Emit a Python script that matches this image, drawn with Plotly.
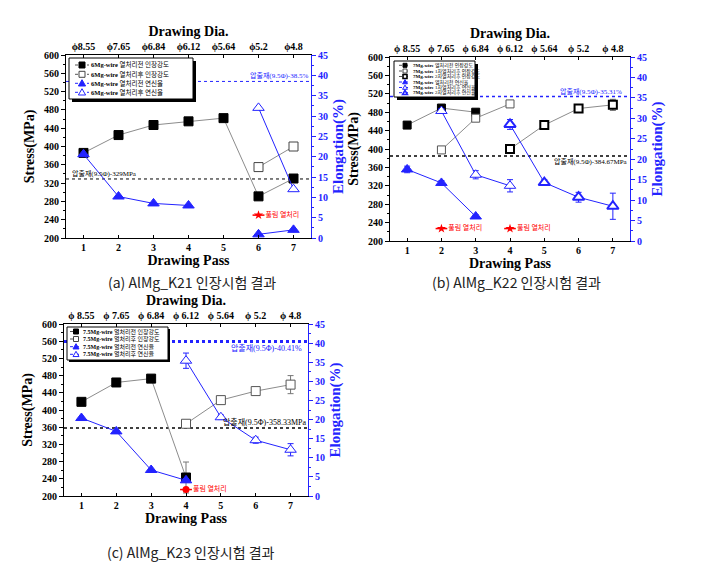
import plotly.graph_objects as go

W, H = 703, 565

# ---------------- data ----------------
passes = [1, 2, 3, 4, 5, 6, 7]
dia_a = ["ϕ8.55", "ϕ7.65", "ϕ6.84", "ϕ6.12", "ϕ5.64", "ϕ5.2", "ϕ4.8"]
dia_bc = ["ϕ 8.55", "ϕ 7.65", "ϕ 6.84", "ϕ 6.12", "ϕ 5.64", "ϕ 5.2", "ϕ 4.8"]

# (a) AlMg_K21
a_ts_pre = [386, 425, 447, 455, 462, 291, 330]
a_ts_post = [None, None, None, None, None, 355, 400]
a_ts_post_err = [0, 0, 0, 0, 0, 6, 6]
a_el_pre = [20.6, 10.2, 8.5, 8.0, None, 0.9, 2.0]
a_el_post = [None, None, None, None, None, 32.0, 12.0]
a_ref_ts = 329
a_ref_el = 38.5
a_anneal_pass = [6]
a_anneal_ts = [250]
a_legend = ["<b>6Mg-wire</b> 열처리전 인장강도", "<b>6Mg-wire</b> 열처리후 인장강도",
            "<b>6Mg-wire</b> 열처리전 연신율", "<b>6Mg-wire</b> 열처리후 연신율"]

# (b) AlMg_K22
b_ts_pre = [452, 489, 480, None, None, None, None]
b_ts_post1 = [None, 398, 467, 498, None, None, None]
b_ts_post1_err = [0, 4, 5, 4, 0, 0, 0]
b_ts_post2 = [None, None, None, 400, 452, 488, 496]
b_ts_post2_err = [0, 0, 0, 4, 4, 4, 12]
b_el_pre = [17.5, 14.2, 6.0, None, None, None, None]
b_el_pre_err = [0.8, 0.6, 0.4, 0, 0, 0, 0]
b_el_post1 = [None, 31.8, 16.2, 13.5, None, None, None]
b_el_post1_err = [0, 0.6, 1.0, 1.5, 0, 0, 0]
b_el_post2 = [None, None, None, 28.5, 14.3, 10.7, 8.5]
b_el_post2_err = [0, 0, 0, 1.2, 0.7, 1.2, 3.2]
b_ref_ts = 384.67
b_ref_el = 35.31
b_anneal_pass = [2, 4]
b_anneal_ts = [227, 227]
b_legend = ["<b>7Mg-wire</b> 열처리전 인장강도", "<b>7Mg-wire</b> 1차열처리후 인장강도",
            "<b>7Mg-wire</b> 2차열처리후 인장강도", "<b>7Mg-wire</b> 열처리전 연신율",
            "<b>7Mg-wire</b> 1차열처리후 연신율", "<b>7Mg-wire</b> 2차열처리후 연신율"]

# (c) AlMg_K23
c_ts_pre = [419, 464, 473, 243, None, None, None]
c_ts_pre_err = [0, 0, 0, 36, 0, 0, 0]
c_ts_post = [None, None, None, 368, 423, 444, 459]
c_ts_post_err = [0, 0, 0, 5, 5, 5, 21]
c_el_pre = [20.4, 16.9, 6.8, 4.1, None, None, None]
c_el_post = [None, None, None, 35.4, 20.6, 14.6, 12.1]
c_el_post_err = [0, 0, 0, 2.0, 0.6, 0.8, 1.6]
c_ref_ts = 358.33
c_ref_el = 40.41
c_anneal_pass = [4]
c_anneal_ts = [215]
c_legend = ["<b>7.5Mg-wire</b> 열처리전 인장강도", "<b>7.5Mg-wire</b> 열처리후 인장강도",
            "<b>7.5Mg-wire</b> 열처리전 연신율", "<b>7.5Mg-wire</b> 열처리후 연신율"]

captions = ["(a) AlMg_K21 인장시험 결과", "(b) AlMg_K22 인장시험 결과", "(c) AlMg_K23 인장시험 결과"]
anneal_text = "풀림 열처리"

# ---------------- styling ----------------
BLUE = "#2323ff"
GRAY = "#8c8c8c"
SERIF = "Liberation Serif, DejaVu Serif, serif"
KR = "Noto Sans CJK KR"
MIX = "Liberation Serif, Noto Sans CJK KR"


def nm(i):
    return "" if i == 1 else str(i)


fig = go.Figure()
shapes = []
annotations = []

panels = [
    dict(xd=(66, 311), yd=(55, 238), dia=dia_a, cap=(192, 282)),
    dict(xd=(390, 630), yd=(57, 241), dia=dia_bc, cap=(516, 282)),
    dict(xd=(64, 308), yd=(324, 496), dia=dia_bc, cap=(191, 552)),
]

layout_axes = {}
for p, P in enumerate(panels):
    ib, it = 2 * p + 1, 2 * p + 2
    tf = dict(family=SERIF, size=10, weight="bold", color="black")
    tfb = dict(family=SERIF, size=10, weight="bold", color=BLUE)
    layout_axes["xaxis" + nm(ib)] = dict(
        domain=[P["xd"][0] / W, P["xd"][1] / W], anchor="y" + nm(ib), range=[0.5, 7.5],
        tickvals=passes, ticks="inside", ticklen=3, tickcolor="black", automargin=False,
        showline=True, linecolor="black", linewidth=1, showgrid=False, zeroline=False,
        tickfont=tf,
        title=dict(text="Drawing Pass", font=dict(family=SERIF, size=14, weight="bold", color="black"), standoff=0))
    layout_axes["xaxis" + nm(it)] = dict(
        overlaying="x" + nm(ib), anchor="y" + nm(ib), side="top", range=[0.5, 7.5],
        tickvals=passes, ticktext=P["dia"], ticks="inside", ticklen=3, tickcolor="black", automargin=False,
        showline=True, linecolor="black", linewidth=1, showgrid=False, zeroline=False,
        tickfont=tf,
        title=dict(text="Drawing Dia.", font=dict(family=SERIF, size=14, weight="bold", color="black"), standoff=1))
    layout_axes["yaxis" + nm(ib)] = dict(
        domain=[1 - P["yd"][1] / H, 1 - P["yd"][0] / H], anchor="x" + nm(ib), range=[200, 600],
        dtick=40, ticks="outside", ticklen=4, tickcolor="black", automargin=False,
        minor=dict(ticks="outside", ticklen=2, dtick=20, tickcolor="black"),
        showline=True, linecolor="black", linewidth=1, showgrid=False, zeroline=False,
        tickfont=tf,
        title=dict(text="Stress(MPa)", font=dict(family=SERIF, size=14, weight="bold", color="black"), standoff=6))
    layout_axes["yaxis" + nm(it)] = dict(
        overlaying="y" + nm(ib), anchor="x" + nm(ib), side="right", range=[0, 45],
        dtick=5, ticks="outside", ticklen=4, tickcolor=BLUE, automargin=False,
        minor=dict(ticks="outside", ticklen=2, dtick=2.5, tickcolor=BLUE),
        showline=True, linecolor=BLUE, linewidth=1, showgrid=False, zeroline=False,
        tickfont=tfb,
        title=dict(text="Elongation(%)", font=dict(family=SERIF, size=15, weight="bold", color=BLUE), standoff=5))
    # keep the top axis alive
    fig.add_trace(go.Scatter(x=passes, y=[None] * 7, xaxis="x" + nm(it), yaxis="y" + nm(ib),
                             showlegend=False, hoverinfo="skip"))
    annotations.append(dict(text=captions[p], xref="paper", yref="paper", x=P["cap"][0] / W,
                            y=1 - P["cap"][1] / H, showarrow=False, xanchor="center", yanchor="middle",
                            font=dict(family=KR, size=14, color="#222")))


def series(y, p, right, sym, edge, fill, lc, size, mlw=1, err=None, ecolor=None):
    ib, it = 2 * p + 1, 2 * p + 2
    fig.add_trace(go.Scatter(
        x=passes, y=y, xaxis="x" + nm(ib), yaxis="y" + nm(it if right else ib),
        mode="lines+markers", line=dict(color=lc, width=1),
        marker=dict(symbol=sym, size=size, color=fill, line=dict(color=edge, width=mlw)),
        error_y=dict(type="data", array=err if err else [0] * 7, color=ecolor or lc,
                     thickness=1, width=3, visible=err is not None),
        showlegend=False, hoverinfo="skip"))


def anneal(xs, ys, p, sym):
    ib = 2 * p + 1
    fig.add_trace(go.Scatter(
        x=xs, y=ys, xaxis="x" + nm(ib), yaxis="y" + nm(ib), mode="markers+text",
        marker=dict(symbol=sym, size=7, color="red"),
        error_x=dict(type="constant", value=0.17, width=0, color="red", thickness=1.5),
        text=[" " + anneal_text] * len(xs), textposition="middle right",
        textfont=dict(family=KR, size=7, color="red"),
        showlegend=False, hoverinfo="skip"))


# (a)
series(a_ts_pre, 0, False, "square", "black", "black", GRAY, 9)
series(a_ts_post, 0, False, "square", "#444", "white", GRAY, 9, err=a_ts_post_err, ecolor="#666")
series(a_el_pre, 0, True, "triangle-up", BLUE, BLUE, BLUE, 10)
series(a_el_post, 0, True, "triangle-up", BLUE, "white", BLUE, 10)
anneal(a_anneal_pass, a_anneal_ts, 0, "star")

# (b)
series(b_ts_pre, 1, False, "square", "black", "black", GRAY, 8)
series(b_ts_post1, 1, False, "square", "#555", "white", GRAY, 8, err=b_ts_post1_err, ecolor="#666")
series(b_ts_post2, 1, False, "square", "black", "white", GRAY, 8, mlw=2, err=b_ts_post2_err, ecolor="#666")
series(b_el_pre, 1, True, "triangle-up", BLUE, BLUE, BLUE, 10, err=b_el_pre_err)
series(b_el_post1, 1, True, "triangle-up", BLUE, "white", BLUE, 10, err=b_el_post1_err)
series(b_el_post2, 1, True, "triangle-up", BLUE, "white", BLUE, 10, mlw=2, err=b_el_post2_err)
anneal(b_anneal_pass, b_anneal_ts, 1, "star")

# (c)
series(c_ts_pre, 2, False, "square", "black", "black", GRAY, 9, err=c_ts_pre_err, ecolor="#777")
series(c_ts_post, 2, False, "square", "#555", "white", GRAY, 9, err=c_ts_post_err, ecolor="#777")
series(c_el_pre, 2, True, "triangle-up", BLUE, BLUE, BLUE, 10)
series(c_el_post, 2, True, "triangle-up", BLUE, "white", BLUE, 10, err=c_el_post_err)
anneal(c_anneal_pass, c_anneal_ts, 2, "circle")


# reference lines
def ref(p, val, right, color, width, label, fsize, above, xpos, xanchor):
    ib, it = 2 * p + 1, 2 * p + 2
    yr = "y" + nm(it if right else ib)
    shapes.append(dict(type="line", xref="x" + nm(ib) + " domain", x0=0, x1=1, yref=yr, y0=val, y1=val,
                       line=dict(color=color, width=width, dash="dot"), layer="below"))
    annotations.append(dict(text=label, xref="x" + nm(ib) + " domain", x=xpos, yref=yr, y=val,
                            xanchor=xanchor, yanchor="bottom" if above else "top", showarrow=False,
                            font=dict(family=MIX, size=fsize, color=color), borderpad=0))


ref(0, a_ref_ts, False, "black", 1, f"압출재(9.5Φ)-{a_ref_ts}MPa", 7, True, 0.02, "left")
ref(0, a_ref_el, True, BLUE, 1, f"압출재(9.5Φ)-{a_ref_el}%", 7, True, 0.99, "right")
ref(1, b_ref_ts, False, "black", 1.5, f"압출재(9.5Φ)-{b_ref_ts}MPa", 7, False, 0.995, "right")
ref(1, b_ref_el, True, BLUE, 1.5, f"압출재(9.5Φ)-{b_ref_el}%", 7, True, 0.97, "right")
ref(2, c_ref_ts, False, "black", 1.5, f"압출재(9.5Φ)-{c_ref_ts}MPa", 8, True, 0.995, "right")
ref(2, c_ref_el, True, BLUE, 3, f"압출재(9.5Φ)-{c_ref_el}%", 8, False, 0.98, "right")


# hand-built legends (compact, like the original)
def P2(x, y):
    return x / W, 1 - y / H


def legend_box(box, rows, labels, styles, sx, tx, half, s, fsize, shadow):
    x0, y0, x1, y1 = box
    a, b = P2(x0 + shadow, y1 + shadow)
    c, d = P2(x1 + shadow, y0 + shadow)
    shapes.append(dict(type="rect", xref="paper", yref="paper", x0=a, x1=c, y0=b, y1=d,
                       fillcolor="black", line=dict(width=0), layer="above"))
    a, b = P2(x0, y1)
    c, d = P2(x1, y0)
    shapes.append(dict(type="rect", xref="paper", yref="paper", x0=a, x1=c, y0=b, y1=d,
                       fillcolor="white", line=dict(color="black", width=1), layer="above"))
    for yy, lab, st in zip(rows, labels, styles):
        a, b = P2(sx - half, yy)
        c, _ = P2(sx + half, yy)
        shapes.append(dict(type="line", xref="paper", yref="paper", x0=a, x1=c, y0=b, y1=b,
                           line=dict(color=st["lc"], width=1, dash="dot"), layer="above"))
        if st["kind"] == "sq":
            a, b = P2(sx - s / 2, yy + s / 2)
            c, d = P2(sx + s / 2, yy - s / 2)
            shapes.append(dict(type="rect", xref="paper", yref="paper", x0=a, x1=c, y0=b, y1=d,
                               fillcolor=st["fill"], line=dict(color=st["edge"], width=st["ew"]), layer="above"))
        else:
            pts = [P2(sx, yy - s * 0.6), P2(sx + s * 0.6, yy + s * 0.45), P2(sx - s * 0.6, yy + s * 0.45)]
            path = "M{},{} L{},{} L{},{} Z".format(*[v for pt in pts for v in pt])
            shapes.append(dict(type="path", xref="paper", yref="paper", path=path,
                               fillcolor=st["fill"], line=dict(color=st["edge"], width=st["ew"]), layer="above"))
        a, b = P2(tx, yy)
        annotations.append(dict(text=lab, xref="paper", yref="paper", x=a, y=b, xanchor="left",
                                yanchor="middle", showarrow=False, borderpad=0,
                                font=dict(family=MIX, size=fsize, color="black")))


sq_f = dict(kind="sq", fill="black", edge="black", ew=1, lc="#555")
sq_o = dict(kind="sq", fill="white", edge="#444", ew=1, lc="#555")
sq_ob = dict(kind="sq", fill="white", edge="black", ew=1.6, lc="#555")
tr_f = dict(kind="tri", fill=BLUE, edge=BLUE, ew=1, lc=BLUE)
tr_o = dict(kind="tri", fill="white", edge=BLUE, ew=1, lc=BLUE)
tr_ob = dict(kind="tri", fill="white", edge=BLUE, ew=1.6, lc=BLUE)

legend_box((69, 58, 193, 99), [65, 74.3, 83.3, 92.3], a_legend, [sq_f, sq_o, tr_f, tr_o],
           82, 90, 7, 6, 6.5, 3)
legend_box((394, 61, 475, 97), [65.3, 71, 76.5, 82, 87.5, 92.7], b_legend,
           [sq_f, sq_o, sq_ob, tr_f, tr_o, tr_ob], 405, 412, 6, 4, 5, 3)
legend_box((67, 327, 168, 360), [331.5, 339, 346.7, 354.3], c_legend, [sq_f, sq_o, tr_f, tr_o],
           76, 82, 6, 5, 6, 2)

fig.update_layout(
    width=W, height=H, margin=dict(l=0, r=0, t=0, b=0, autoexpand=False),
    paper_bgcolor="white", plot_bgcolor="white", showlegend=False,
    shapes=shapes, annotations=annotations, **layout_axes)

# remove the browser's default 8px body margin so the figure sits at the page origin
fig.write_html("out.html", config={"displayModeBar": False},
               post_script="document.body.style.margin='0px';document.body.style.overflow='hidden';")
